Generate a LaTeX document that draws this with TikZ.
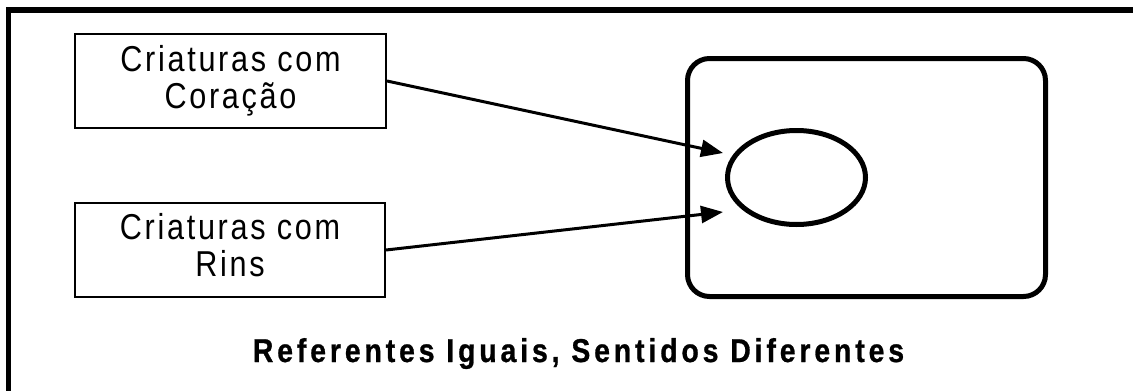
\documentclass[tikz,border=0pt]{standalone}
\usepackage{fontspec}
\setmainfont{Liberation Sans}
\newfontfamily\boxfont[LetterSpace=7.5,FakeStretch=0.85]{Liberation Sans}
\newfontfamily\titlefont[LetterSpace=11.8,FakeStretch=0.86,BoldFeatures={FakeBold=0.8}]{Liberation Sans}
\usetikzlibrary{arrows.meta,shapes.geometric}
\begin{document}
\begin{tikzpicture}[x=1pt,y=1pt,
  labelbox/.style={draw=black, line width=2pt, rectangle, minimum width=311pt, minimum height=94pt,
    inner sep=0pt, align=center, font=\boxfont\fontsize{36}{37}\selectfont},
  conn/.style={line width=3pt, -{Triangle[length=22pt,width=17pt]}},
  framebar/.style={line width=5.5pt}
]
\useasboundingbox (0,0) rectangle (1133,-391);
\fill[white] (0,0) rectangle (1133,-391);
% outer frame (only top and left edges visible)
\draw[framebar] (8.5,-391) -- (8.5,-10) -- (1133,-10);
% boxes
\node[labelbox] (b1) at (230.5,-81) {Criaturas com\\Coração};
\node[labelbox, minimum width=310pt] (b2) at (230,-250) {Criaturas com\\Rins\rule[-9.5pt]{0pt}{0pt}};
% rounded rectangle and ellipse
\node[draw, line width=5pt, rounded corners=22pt, rectangle, minimum width=358pt, minimum height=238pt] (r) at (866.5,-177.5) {};
\node[draw, line width=5pt, ellipse, minimum width=138pt, minimum height=94pt, inner sep=0pt] (e) at (796.5,-177.5) {};
\coordinate (t1) at (723,-153);
\coordinate (t2) at (723,-212);
\draw[conn] (b1.east) -- (t1);
\draw[conn] (b2.east) -- (t2);
% title
\node[anchor=base, inner sep=0pt, font=\titlefont\bfseries\fontsize{33}{33}\selectfont] (title) at (578.5,-362) {Referentes Iguais, Sentidos Diferentes};
\end{tikzpicture}
\end{document}
